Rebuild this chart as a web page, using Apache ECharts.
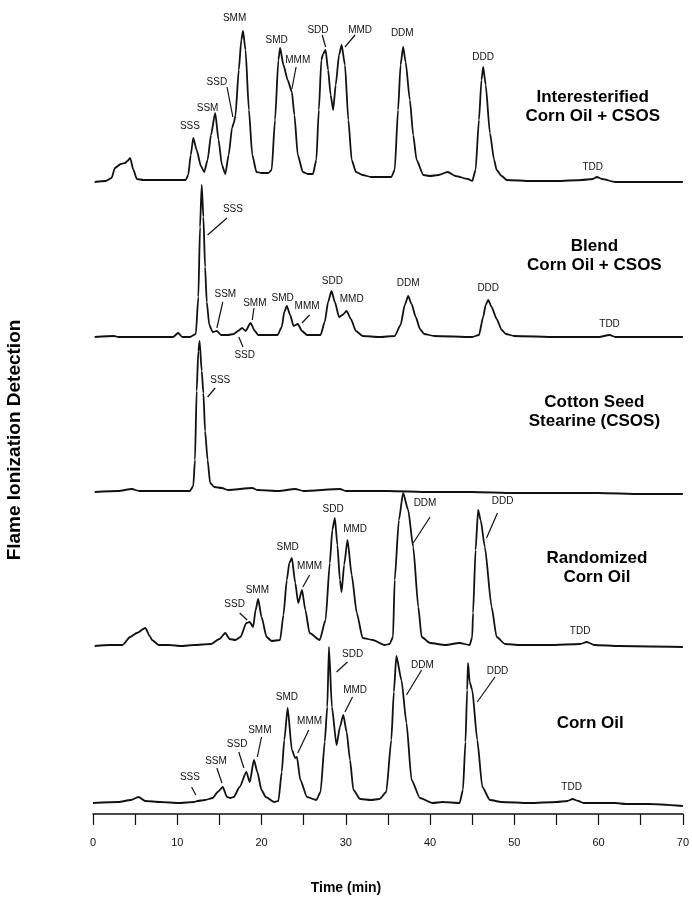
<!DOCTYPE html>
<html>
<head>
<meta charset="utf-8">
<script src="https://cdn.jsdelivr.net/npm/echarts@6/dist/echarts.min.js"></script>
<style>html,body{margin:0;padding:0;background:#fff}#c{width:692px;height:905px}</style>
</head>
<body>
<div id="c"></div>
<script>
// ---- Data: each trace as [time (min), detector response above its own baseline] ----
var traceNames = ['Interesterified Corn Oil + CSOS', 'Blend Corn Oil + CSOS', 'Cotton Seed Stearine (CSOS)', 'Randomized Corn Oil', 'Corn Oil'];

var interesterified = [
  [0.2,-2],[1.5,-1],[2.2,2],[2.6,12],[3.3,16],[3.8,17],[4.1,19],[4.4,22],[4.8,10],[5.2,1],[6,0],[8,0],[10,0],[11.0,0],
  [11.3,5],[11.6,25],[11.9,42],[12.3,30],[12.8,14],[13.2,8],
  [13.6,20],[14.0,45],[14.5,67],[14.9,40],[15.3,15],[15.7,6],
  [16.1,25],[16.5,52],[16.7,57],[16.9,64],[17.3,110],[17.6,140],[17.8,149],[18.1,130],[18.5,70],[18.9,25],[19.4,8],[20.0,7],[20.8,7],
  [21.2,10],[21.6,60],[22.0,120],[22.2,132],[22.6,115],[23.1,100],[23.6,88],[23.9,65],[24.3,25],[24.9,8],[25.5,6],[26.1,6],
  [26.5,20],[26.8,70],[27.1,120],[27.3,126],[27.6,130],[27.9,110],[28.2,85],[28.5,70],[28.8,95],[29.2,125],[29.5,135],[29.9,115],[30.3,60],[30.7,20],[31.2,8],[32.0,5],[33,3],[34.0,3],
  [35.4,3],[35.8,10],[36.2,70],[36.5,115],[36.8,133],[37.1,118],[37.6,80],[38.0,45],[38.4,20],[39.2,5],[40,4],[41,5],[42.1,8],[43,4],[44.5,1],[45.0,-1],
  [45.4,10],[45.8,60],[46.1,100],[46.3,113],[46.6,95],[47.1,47],[47.6,20],[47.9,10],[48.5,4],[49.1,0],[52,-1],[55,-1],[58,0],[59.3,1],[59.8,3],[60.4,1],[62,-2],[65,-2],[70,-2]
];

var blend = [
  [0.2,0],[2.5,1],[3,0],[9.5,0],[10.1,4],[10.6,0],[11.5,0],[12.2,3],[12.5,40],[12.7,110],[12.9,152],[13.1,120],[13.3,70],[13.5,35],[13.8,12],[14.2,5],[14.7,6],[15.2,2],[16.0,2],[16.7,3],[17.2,6],[17.7,9],[18.1,6],[18.7,14],[19.2,6],[19.6,2],[20.5,2],[21.9,2],
  [22.4,10],[22.7,25],[23.0,31],[23.4,22],[23.8,11],[24.3,13],[24.8,6],[25.4,2],[27.0,2],[27.5,15],[27.9,35],[28.3,46],[28.7,35],[29.2,20],[29.6,22],[30.1,26],[30.6,18],[31.2,6],[32.0,1],[34,0],
  [35.8,1],[36.5,12],[37.0,32],[37.4,41],[37.8,33],[38.3,20],[38.8,8],[39.3,3],[40.5,1],[45,0],[45.8,2],[46.3,20],[46.6,32],[46.9,37],[47.3,30],[47.9,18],[48.5,7],[49.0,3],[50,1],[55,0],[60,0],[61.3,2],[62,0],[70,0]
];

var csos = [
  [0.2,-1],[3,0],[4.6,2],[5.5,0],[9,0],[11.5,0],[11.9,5],[12.1,31],[12.3,100],[12.5,140],[12.65,150],[12.9,120],[13.1,98],[13.3,60],[13.6,31],[13.9,8],[14.4,4],[15.3,3],[16,1],[18.9,3],[19.5,1],[22,0],[24.0,2],[25,0],[29.3,2],[30,0],[35,0],[40,-1],[45,-1],[50,-2],[55,-2],[60,-2],[65,-3],[70,-3]
];

var randomized = [
  [0.2,-1],[2,0],[3.5,0],[4.4,8],[5.2,12],[6.2,17],[6.8,8],[7.0,5],[7.8,0],[9,0],[10.5,-1],[12,0],[14.0,1],[15.0,6],[15.7,12],[16.2,6],[16.9,5],
  [17.5,8],[18.2,22],[18.6,23],[19.0,18],[19.3,35],[19.6,46],[20.0,28],[20.6,8],[21.2,4],[22.2,5],
  [22.6,30],[23.0,65],[23.3,82],[23.6,87],[24.0,62],[24.35,42],[24.8,55],[25.2,35],[25.7,12],[26.9,5],
  [27.6,25],[28.1,82],[28.4,115],[28.7,127],[29.0,100],[29.3,65],[29.5,53],[29.8,80],[30.2,105],[30.7,70],[31.3,32],[32.0,7],[33.2,5],[34.6,0],
  [35.2,1],[35.6,8],[35.8,65],[36.3,125],[36.8,152],[37.4,135],[38.0,98],[38.6,38],[39.0,8],[40.0,2],[41.8,0],[43.5,2],[44.7,0],
  [45.0,8],[45.1,32],[45.4,95],[45.7,135],[46.0,125],[46.5,98],[47.3,38],[47.9,8],[48.9,1],[50.6,0],[54.2,0],[57.8,1],[58.6,3],[59.5,0],[62.5,-1],[70,-2]
];

var cornOil = [
  [0,-1],[3,0],[4.5,2],[5.4,5],[6.2,1],[8,0],[10.2,-1],[12.0,0],[12.4,1],[13.3,2],[14.2,4],[14.8,10],[15.4,15],[15.9,5],[16.3,4],[16.7,5],
  [17.4,15],[18.2,30],[18.6,20],[19.1,42],[19.5,30],[20.0,12],[20.5,5],[21.5,0],[22.0,1],
  [22.4,30],[22.7,62],[23.1,94],[23.6,52],[24.0,44],[24.2,45],[24.6,22],[25.4,5],[26.5,2],
  [27.0,10],[27.5,60],[27.8,95],[28.0,155],[28.35,95],[28.9,57],[29.3,75],[29.7,87],[30.1,70],[30.5,42],[30.9,12],[31.7,3],[33.0,2],[34.0,3],
  [34.8,10],[35.4,62],[35.7,110],[36.0,146],[36.6,122],[37.2,79],[37.8,22],[38.8,4],[40.3,-1],[41.5,0],[43.5,-1],
  [43.9,12],[44.2,60],[44.4,112],[44.5,139],[44.7,120],[45.0,112],[45.6,62],[46.2,15],[47.1,2],[48.5,0],[51.8,-1],[55.0,0],[56.3,1],[56.9,3],[57.6,1],[58.2,-1],[62,-1],[63.2,-2],[66,-2],[70,-4]
];

// Peak labels: [time, height above baseline, text]
var labels1 = [[11.5,54,'SSS'],[13.6,72,'SSM'],[14.7,98,'SSD'],[16.8,162,'SMM'],[21.8,140,'SMD'],[24.3,120,'MMM'],[26.7,150,'SDD'],[31.7,150,'MMD'],[36.7,147,'DDM'],[46.3,123,'DDD'],[59.3,13,'TDD']];
var labels2 = [[16.6,128,'SSS'],[15.7,43,'SSM'],[18.0,-18,'SSD'],[19.2,34,'SMM'],[22.5,39,'SMD'],[25.4,31,'MMM'],[28.4,56,'SDD'],[30.7,38,'MMD'],[37.4,54,'DDM'],[46.9,49,'DDD'],[61.3,13,'TDD']];
var labels3 = [[15.1,111,'SSS']];
var labels4 = [[16.8,41,'SSD'],[19.5,55,'SMM'],[23.1,98,'SMD'],[25.7,79,'MMM'],[28.5,136,'SDD'],[31.1,116,'MMD'],[39.4,142,'DDM'],[48.6,144,'DDD'],[57.8,14,'TDD']];
var labels5 = [[11.5,25,'SSS'],[14.6,41,'SSM'],[17.1,58,'SSD'],[19.8,72,'SMM'],[23.0,105,'SMD'],[25.7,81,'MMM'],[30.8,148,'SDD'],[31.1,112,'MMD'],[39.1,137,'DDM'],[48.0,131,'DDD'],[56.8,15,'TDD']];

// Leader lines: [t1, h1, t2, h2]
var leaders1 = [[15.9,93,16.6,63],[24.1,113,23.6,91],[27.2,145,27.6,133],[31.1,145,29.9,133]];
var leaders2 = [[15.9,119,13.6,102],[15.4,35,14.7,9],[17.8,-10,17.3,0],[19.1,29,18.9,17],[25.7,22,24.8,14]];
var leaders3 = [[14.5,103,13.6,94]];
var leaders4 = [[17.4,32,18.3,25],[25.7,70,24.9,58],[40.0,128,38.0,102],[48.0,132,46.7,107]];
var leaders5 = [[11.7,15,12.2,7],[14.7,34,15.3,19],[17.3,50,17.9,34],[20.0,65,19.5,45],[25.6,72,24.3,49],[30.2,140,28.9,130],[30.8,105,29.9,90],[39.0,132,37.2,107],[47.7,125,45.6,100]];

// Trace titles: [time, height, text]
var titles = [
  [59.3,73,'Interesterified\nCorn Oil + CSOS'],
  [59.5,81,'Blend\nCorn Oil + CSOS'],
  [59.5,79,'Cotton Seed\nStearine (CSOS)'],
  [59.8,77,'Randomized\nCorn Oil'],
  [59.0,79,'Corn Oil']
];

var xTicks = [0,10,20,30,40,50,60,70];

// ---- Layout (vertical stacking offsets for each trace) ----
var traceOffsets = [634, 477, 323, 169, 12];
var traces = [interesterified, blend, csos, randomized, cornOil];
var labelSets = [labels1, labels2, labels3, labels4, labels5];
var leaderSets = [leaders1, leaders2, leaders3, leaders4, leaders5];

var series = [];
traces.forEach(function (tr, i) {
  var off = traceOffsets[i];
  series.push({
    name: traceNames[i], type: 'line', showSymbol: false, smooth: 0.2, smoothMonotone: 'x',
    lineStyle: {color: '#111', width: 1.8}, z: 3,
    data: tr.map(function (p) { return [p[0], p[1] + off]; })
  });
  series.push({
    type: 'scatter', symbolSize: 0, silent: true, z: 5,
    itemStyle: {opacity: 1, color: '#111'},
    label: {show: true, position: 'inside', formatter: function (p) { return p.data[2]; },
      fontFamily: '"Liberation Sans Narrow", "Liberation Sans", Arial, sans-serif', fontSize: 10, color: '#111', opacity: 1, textBorderWidth: 0},
    data: labelSets[i].map(function (l) { return [l[0], l[1] + off, l[2]]; })
  });
  series.push({
    type: 'lines', coordinateSystem: 'cartesian2d', silent: true, z: 4,
    lineStyle: {color: '#111', width: 1.2, opacity: 1},
    data: leaderSets[i].map(function (l) { return {coords: [[l[0], l[1] + off], [l[2], l[3] + off]]}; })
  });
  series.push({
    type: 'scatter', symbolSize: 0, silent: true, z: 5,
    itemStyle: {opacity: 1, color: '#000'},
    label: {show: true, position: 'inside', formatter: function (p) { return p.data[2]; },
      fontFamily: '"Liberation Sans", Arial, sans-serif', fontWeight: 'bold', fontSize: 17, lineHeight: 19, color: '#000', opacity: 1, textBorderWidth: 0, align: 'center'},
    data: [[titles[i][0], titles[i][1] + off, titles[i][2]]]
  });
});

var chart = echarts.init(document.getElementById('c'), null, {renderer: 'canvas'});
chart.setOption({
  animation: false,
  backgroundColor: '#fff',
  grid: {left: 93, right: 9, top: 0, bottom: 91},
  xAxis: {
    type: 'value', min: 0, max: 70, interval: 5,
    axisLine: {lineStyle: {color: '#111', width: 1.5}},
    axisTick: {show: true, length: 11, lineStyle: {color: '#111', width: 1.2}},
    splitLine: {show: false},
    axisLabel: {
      margin: 23, fontSize: 11, color: '#111', fontFamily: '"Liberation Sans Narrow", "Liberation Sans", Arial, sans-serif',
      formatter: function (v) { return xTicks.indexOf(v) >= 0 ? String(v) : ''; }
    }
  },
  yAxis: {type: 'value', min: 0, max: 814, show: false},
  graphic: [
    {type: 'text', left: 'center', top: 881, style: {text: 'Time (min)', font: 'bold 14px "Liberation Sans", Arial, sans-serif', fill: '#000'}},
    {type: 'text', x: 15, y: 440, rotation: Math.PI / 2, style: {text: 'Flame Ionization Detection', font: 'bold 19px "Liberation Sans", Arial, sans-serif', fill: '#000', align: 'center', verticalAlign: 'middle'}}
  ],
  series: series
});
</script>
</body>
</html>
